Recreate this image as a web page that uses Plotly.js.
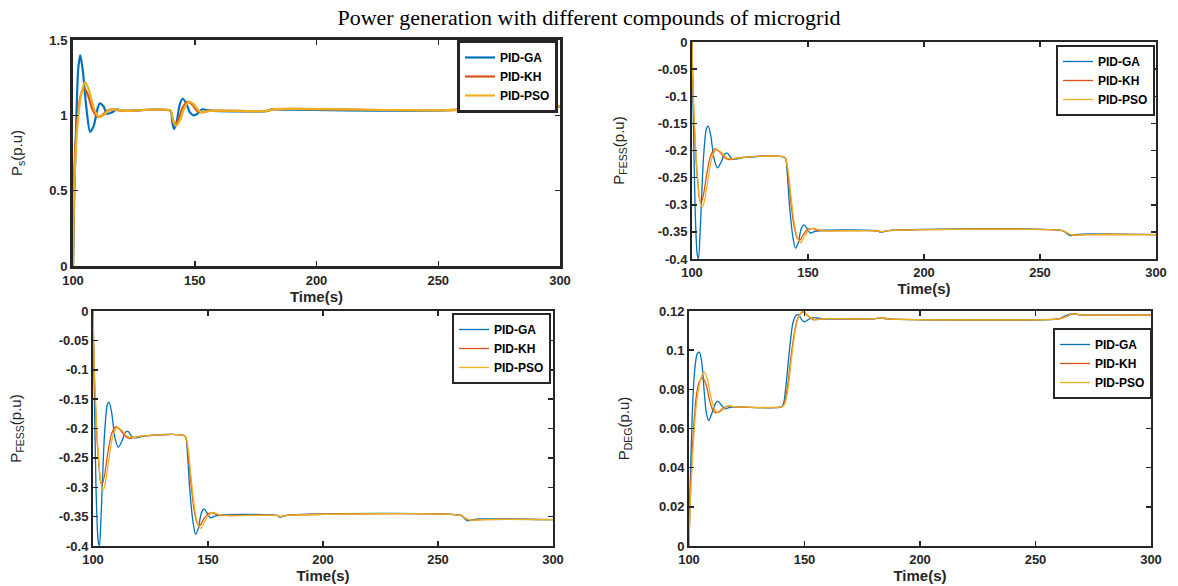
<!DOCTYPE html>
<html>
<head>
<meta charset="utf-8">
<script src="https://cdn.plot.ly/plotly-3.0.1.min.js"></script>
<style>html,body{margin:0;padding:0;background:#fff}#chart{width:1178px;height:586px}</style>
</head>
<body>
<div id="chart"></div>
<script>
// ---------- data ----------
const seriesNames = ['PID-GA', 'PID-KH', 'PID-PSO'];
const seriesColors = ['#0072BD', '#D95319', '#EDB120'];

const xTicks = [100, 150, 200, 250, 300];
const xTickText = ['100', '150', '200', '250', '300'];
const psTicks = [0, 0.5, 1, 1.5];
const psTickText = ['0', '0.5', '1', '1.5'];
const fessTicks = [-0.4, -0.35, -0.3, -0.25, -0.2, -0.15, -0.1, -0.05, 0];
const fessTickText = ['-0.4', '-0.35', '-0.3', '-0.25', '-0.2', '-0.15', '-0.1', '-0.05', '0'];
const degTicks = [0, 0.02, 0.04, 0.06, 0.08, 0.1, 0.12];
const degTickText = ['0', '0.02', '0.04', '0.06', '0.08', '0.1', '0.12'];

// Ps
const psT_GA = [100, 100.5, 101.5, 102.2, 103, 104, 105.5, 107, 108.5, 110, 111, 112.5, 114, 116, 118, 121, 140, 140.7, 141.5, 142.5, 143.8, 145, 146.5, 148, 149.5, 151, 153, 155, 158, 180, 181.5, 183, 260, 261.5, 263, 265, 268, 300];
const psGA   = [0, 0.45, 1.05, 1.32, 1.40, 1.30, 1.05, 0.89, 0.93, 1.04, 1.08, 1.06, 1.01, 1.02, 1.04, 1.03, 1.03, 0.96, 0.91, 0.95, 1.07, 1.11, 1.08, 1.02, 1.00, 1.01, 1.04, 1.035, 1.03, 1.03, 1.04, 1.04, 1.04, 1.055, 1.065, 1.06, 1.06, 1.06];
const psT_KH = [100, 100.3, 101, 102, 103, 104.5, 106, 108, 110, 112, 114, 116, 118, 121, 140, 141, 142, 143.5, 145, 147, 149, 151, 153, 156, 180, 182, 260, 263, 268, 300];
const psKH   = [0, 0.5, 0.8, 1.0, 1.12, 1.18, 1.14, 1.04, 0.99, 1.00, 1.03, 1.04, 1.035, 1.03, 1.03, 0.97, 0.94, 0.98, 1.05, 1.09, 1.07, 1.03, 1.02, 1.03, 1.03, 1.04, 1.04, 1.06, 1.06, 1.06];
const psT_PSO = [100, 100.4, 101.2, 102.2, 103.5, 105, 106.5, 108.5, 110.5, 112.5, 114.5, 117, 119, 122, 140, 141.2, 142.3, 144, 145.5, 147.5, 149.5, 151.5, 153, 156, 180, 182, 260, 263, 268, 300];
const psPSO   = [0, 0.45, 0.78, 1.0, 1.15, 1.22, 1.17, 1.05, 0.99, 1.00, 1.03, 1.04, 1.035, 1.03, 1.03, 0.96, 0.93, 0.97, 1.04, 1.09, 1.075, 1.035, 1.02, 1.03, 1.03, 1.04, 1.04, 1.06, 1.06, 1.06];

// P_FESS
const fessT_GA = [100, 100.5, 101.3, 102.2, 102.8, 103.6, 105, 106.2, 107, 108, 109.5, 111, 112.5, 114, 115.2, 117, 119, 122, 140, 141, 142, 143.5, 144.6, 145.8, 147, 148.2, 149.5, 151, 153, 156, 180, 181.2, 183, 186, 260, 261.5, 263, 265.5, 268, 300];
const fessGA   = [0, -0.12, -0.30, -0.39, -0.40, -0.34, -0.21, -0.16, -0.155, -0.17, -0.215, -0.232, -0.222, -0.207, -0.205, -0.214, -0.216, -0.213, -0.213, -0.24, -0.30, -0.36, -0.38, -0.37, -0.345, -0.337, -0.343, -0.352, -0.349, -0.347, -0.348, -0.351, -0.349, -0.347, -0.348, -0.353, -0.357, -0.355, -0.354, -0.355];
const fessT_KH = [100, 100.5, 101.5, 102.5, 103.3, 104, 105, 106.5, 108, 110, 112, 114, 116, 118, 121, 140, 141, 142.5, 144, 145.5, 146.5, 148, 150, 152, 154, 157, 180, 181.5, 184, 260, 262, 264, 270, 300];
const fessKH   = [0, -0.10, -0.20, -0.26, -0.29, -0.295, -0.28, -0.24, -0.21, -0.197, -0.203, -0.213, -0.217, -0.215, -0.213, -0.213, -0.23, -0.29, -0.34, -0.363, -0.365, -0.355, -0.345, -0.344, -0.347, -0.348, -0.348, -0.35, -0.348, -0.348, -0.353, -0.356, -0.355, -0.355];
const fessT_PSO = [100, 100.5, 101.5, 102.5, 103.5, 104.5, 105.5, 107, 108.5, 110.5, 112.5, 114.5, 116, 118, 121, 140, 141.2, 142.8, 144.3, 145.8, 146.8, 148.3, 150.3, 152.3, 154.5, 157.5, 180, 181.5, 184, 260, 262, 264, 270, 300];
const fessPSO   = [0, -0.09, -0.19, -0.255, -0.295, -0.305, -0.29, -0.25, -0.215, -0.198, -0.203, -0.212, -0.215, -0.215, -0.213, -0.213, -0.23, -0.29, -0.34, -0.365, -0.37, -0.36, -0.347, -0.343, -0.346, -0.348, -0.348, -0.35, -0.348, -0.348, -0.353, -0.356, -0.355, -0.355];

// P_DEG
const degT_GA = [100, 100.5, 101.5, 102.5, 103.5, 104.5, 105.5, 106.5, 107.5, 108.5, 110, 111.5, 112.5, 114, 115.5, 117, 120, 140, 141, 142, 143.5, 145, 146.5, 147.5, 148.5, 150, 151.5, 153, 155, 158, 180, 183, 186, 260, 262, 264, 266, 270, 300];
const degGA   = [0, 0.03, 0.07, 0.09, 0.098, 0.099, 0.094, 0.08, 0.068, 0.064, 0.068, 0.073, 0.074, 0.072, 0.070, 0.0705, 0.071, 0.071, 0.073, 0.082, 0.10, 0.114, 0.118, 0.118, 0.116, 0.1145, 0.1155, 0.1165, 0.1165, 0.116, 0.116, 0.1165, 0.116, 0.116, 0.117, 0.118, 0.1185, 0.118, 0.118];
const degT_KH = [100, 100.5, 101.5, 103, 104.5, 106, 107.5, 109, 110.5, 112, 113.5, 115, 117, 119, 122, 140, 141, 142.5, 144, 145.5, 147, 148.5, 149.5, 151, 152.5, 154, 157, 180, 183, 186, 260, 263, 266, 270, 300];
const degKH   = [0, 0.025, 0.05, 0.075, 0.084, 0.086, 0.082, 0.074, 0.069, 0.068, 0.069, 0.0705, 0.0715, 0.0712, 0.071, 0.071, 0.072, 0.08, 0.095, 0.108, 0.116, 0.119, 0.1195, 0.118, 0.1165, 0.1155, 0.116, 0.116, 0.1165, 0.116, 0.116, 0.117, 0.1185, 0.118, 0.118];
const degT_PSO = [100, 100.5, 101.5, 103, 105, 106.5, 108, 109.5, 111, 112.5, 114, 115.5, 117.5, 119.5, 122, 140, 141.2, 142.7, 144.2, 145.7, 147.2, 148.7, 149.7, 151.2, 153, 155, 158, 180, 183, 186, 260, 263, 266, 270, 300];
const degPSO   = [0, 0.02, 0.045, 0.07, 0.085, 0.089, 0.085, 0.076, 0.07, 0.068, 0.069, 0.0705, 0.0715, 0.0712, 0.071, 0.071, 0.072, 0.079, 0.094, 0.108, 0.116, 0.1195, 0.12, 0.118, 0.1165, 0.1155, 0.116, 0.116, 0.1165, 0.116, 0.116, 0.117, 0.1185, 0.118, 0.118];

// ---------- build ----------
const panels = [
  {xa: 'x',  ya: 'y',  lg: 'legend',  w: 2.2, t: [psT_GA, psT_KH, psT_PSO], v: [psGA, psKH, psPSO]},
  {xa: 'x2', ya: 'y2', lg: 'legend2', w: 1.3, t: [fessT_GA, fessT_KH, fessT_PSO], v: [fessGA, fessKH, fessPSO]},
  {xa: 'x3', ya: 'y3', lg: 'legend3', w: 1.3, t: [fessT_GA, fessT_KH, fessT_PSO], v: [fessGA, fessKH, fessPSO]},
  {xa: 'x4', ya: 'y4', lg: 'legend4', w: 1.3, t: [degT_GA, degT_KH, degT_PSO], v: [degGA, degKH, degPSO]}
];
const traces = [];
panels.forEach(p => {
  for (let i = 0; i < 3; i++) {
    traces.push({
      type: 'scatter', mode: 'lines',
      x: p.t[i], y: p.v[i], name: seriesNames[i],
      xaxis: p.xa, yaxis: p.ya, legend: p.lg,
      line: {color: seriesColors[i], width: p.w, shape: 'spline', smoothing: 0.7},
      cliponaxis: true
    });
  }
});

const W = 1178, H = 586;
function dx(a, b) { return [a / W, b / W]; }
function dy(top, bottom) { return [(H - bottom) / H, (H - top) / H]; }

const tickFont = {family: 'Liberation Sans, Arial, sans-serif', size: 13, color: '#262626', weight: 'bold'};
const xTitleFont = {family: 'Liberation Sans, Arial, sans-serif', size: 15, color: '#262626', weight: 'bold'};
const yTitleFont = {family: 'Liberation Sans, Arial, sans-serif', size: 15, color: '#262626'};

function xaxis(domain, anchor, lw) {
  return {domain: domain, anchor: anchor, range: [100, 300], tickmode: 'array', tickvals: xTicks, ticktext: xTickText,
    showline: true, linecolor: '#262626', linewidth: lw, mirror: 'ticks', ticks: 'inside', ticklen: 5, tickwidth: 1.5, tickcolor: '#262626',
    showgrid: false, zeroline: false, tickfont: tickFont,
    title: {text: 'Time(s)', font: xTitleFont, standoff: 0}};
}
function yaxis(domain, anchor, lw, range, tv, tt, title, standoff) {
  return {domain: domain, anchor: anchor, range: range, tickmode: 'array', tickvals: tv, ticktext: tt,
    showline: true, linecolor: '#262626', linewidth: lw, mirror: 'ticks', ticks: 'inside', ticklen: 5, tickwidth: 1.5, tickcolor: '#262626',
    showgrid: false, zeroline: false, tickfont: tickFont,
    title: {text: title, font: yTitleFont, standoff: standoff}};
}
function legend(xr, yt, bw) {
  return {x: xr / W, y: (H - yt) / H, xanchor: 'right', yanchor: 'top', bgcolor: '#fff', bordercolor: '#262626', borderwidth: bw,
    font: {family: 'Liberation Sans, Arial, sans-serif', size: 12, color: '#000', weight: 'bold'}, itemwidth: 30, tracegroupgap: 0};
}

const layout = {
  width: W, height: H, margin: {l: 0, r: 0, t: 0, b: 0}, paper_bgcolor: '#fff', plot_bgcolor: '#fff', showlegend: true,
  title: {text: 'Power generation with different compounds of microgrid', x: 0.5, xanchor: 'center', y: 1 - 17 / H, yanchor: 'middle',
    font: {family: 'Liberation Serif, Times New Roman, serif', size: 22, color: '#000'}},
  xaxis: xaxis(dx(73, 560), 'y', 3),
  yaxis: yaxis(dy(40, 266), 'x', 3, [0, 1.5], psTicks, psTickText, 'P<sub>s</sub>(p.u)', 24),
  xaxis2: xaxis(dx(692, 1156), 'y2', 2),
  yaxis2: yaxis(dy(42, 259), 'x2', 2, [-0.4, 0], fessTicks, fessTickText, 'P<sub>FESS</sub>(p.u)', 30),
  xaxis3: xaxis(dx(93, 553), 'y3', 2),
  yaxis3: yaxis(dy(311, 546), 'x3', 2, [-0.4, 0], fessTicks, fessTickText, 'P<sub>FESS</sub>(p.u)', 34),
  xaxis4: xaxis(dx(689, 1151), 'y4', 2),
  yaxis4: yaxis(dy(311, 546), 'x4', 2, [0, 0.12], degTicks, degTickText, 'P<sub>DEG</sub>(p.u)', 26),
  legend: legend(558, 40, 3),
  legend2: legend(1155, 45, 2),
  legend3: legend(551, 313, 2),
  legend4: legend(1152, 328, 2)
};

Plotly.newPlot('chart', traces, layout, {staticPlot: true, displayModeBar: false});
</script>
</body>
</html>
